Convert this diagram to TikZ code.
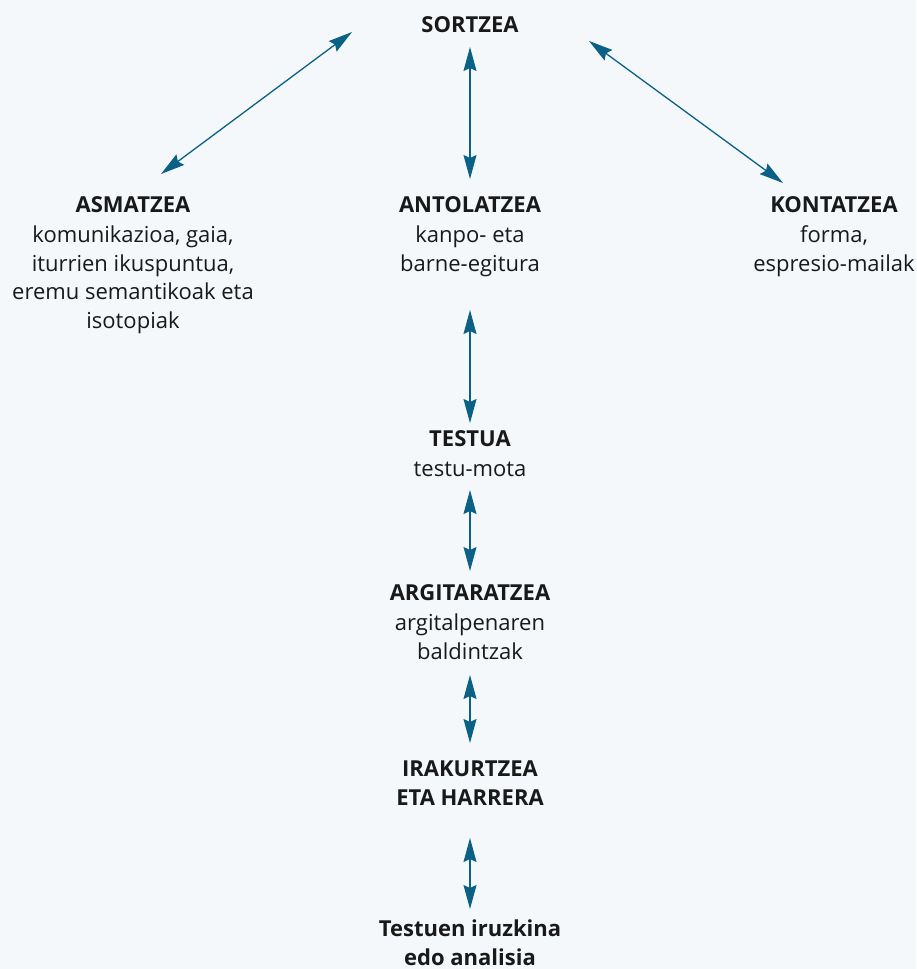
\documentclass[tikz,border=0pt]{standalone}
\usepackage{fontspec}
\setmainfont{Open Sans}
\usetikzlibrary{arrows.meta}
\definecolor{bgc}{HTML}{F4F8FB}
\definecolor{arrc}{HTML}{0B6185}
\begin{document}
\begin{tikzpicture}[x=1pt,y=-1pt,
  lbl/.style={font=\fontsize{22}{28.5}\selectfont, align=center, inner sep=0pt, anchor=base, text=black!90},
  arr/.style={draw=arrc, line width=1.3pt,
    {Stealth[length=24pt,width=13pt,inset=3pt]}-{Stealth[length=24pt,width=13pt,inset=3pt]}}]
\fill[bgc] (0,0) rectangle (916,969);
\useasboundingbox (0,0) rectangle (916,969);

% nodes are placed by the baseline of their last line
\node[lbl] (sortzea) at (470,32) {\textbf{SORTZEA}};
\node[lbl] (asmatzea) at (133,328) {\textbf{ASMATZEA}\\[1.5pt]komunikazioa, gaia,\\iturrien ikuspuntua,\\eremu semantikoak eta\\isotopiak};
\node[lbl] (antolatzea) at (470,271) {\textbf{ANTOLATZEA}\\[1.5pt]kanpo- eta\\barne-egitura};
\node[lbl] (kontatzea) at (834,271) {\textbf{KONTATZEA}\\[1.5pt]forma,\\espresio-mailak};
\node[lbl] (testua) at (470,476) {\textbf{TESTUA}\\[1.5pt]testu-mota};
\node[lbl] (argitaratzea) at (470,659) {\textbf{ARGITARATZEA}\\[1.5pt]argitalpenaren\\baldintzak};
\node[lbl] (irakurtzea) at (470,805) {\textbf{IRAKURTZEA}\\\textbf{ETA HARRERA}};
\node[lbl] (iruzkina) at (470,965) {\textbf{Testuen iruzkina}\\\textbf{edo analisia}};

\coordinate (s1) at (352,32);   \coordinate (a1) at (161,174);
\coordinate (s2) at (470,47);   \coordinate (a2) at (470,179);
\coordinate (s3) at (589,41);   \coordinate (a3) at (783,183);
\coordinate (t1) at (470,310);  \coordinate (t2) at (470,423);
\coordinate (t3) at (470,490);  \coordinate (t4) at (470,571);
\coordinate (t5) at (470,675);  \coordinate (t6) at (470,743);
\coordinate (t7) at (470,838);  \coordinate (t8) at (470,909);

\draw[arr] (s1) -- (a1);
\draw[arr] (s2) -- (a2);
\draw[arr] (s3) -- (a3);
\draw[arr] (t1) -- (t2);
\draw[arr] (t3) -- (t4);
\draw[arr] (t5) -- (t6);
\draw[arr] (t7) -- (t8);
\end{tikzpicture}
\end{document}
